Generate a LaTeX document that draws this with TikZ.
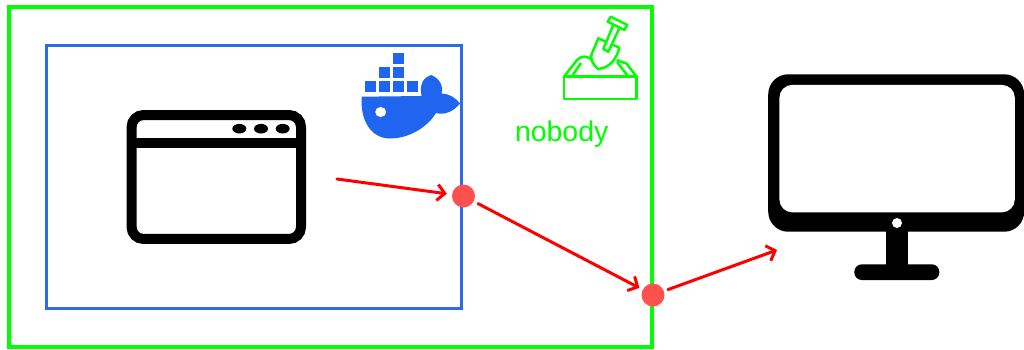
\documentclass[tikz,border=0pt]{standalone}
\usepackage{fontspec}
\setmainfont{Liberation Sans}
\usetikzlibrary{arrows.meta, positioning}
\definecolor{zonegreen}{HTML}{00FF00}
\definecolor{zoneblue}{HTML}{2D6BE4}
\definecolor{whaleblue}{HTML}{1F65F0}
\definecolor{portred}{HTML}{FF5050}
\tikzset{
    box_outer_green/.style={
        rectangle, draw=zonegreen, line width=0.8mm,
        minimum width=128.6mm, minimum height=68mm
    },
    box_inner_blue/.style={
        rectangle, draw=zoneblue, line width=0.6mm,
        minimum width=83.2mm, minimum height=52.8mm
    },
    box_window/.style={
        rectangle, rounded corners=2.4mm, draw=black, line width=2mm,
        minimum width=33.9mm, minimum height=24.8mm
    },
    box_screen/.style={
        rectangle, rounded corners=4mm, fill=black,
        minimum width=51.2mm, minimum height=31.5mm
    },
    box_glass/.style={
        rectangle, rounded corners=2.6mm, fill=white,
        minimum width=47.1mm, minimum height=25.5mm
    },
    port_dot/.style={
        circle, fill=portred, inner sep=0pt, minimum size=4.6mm
    },
    pipe_arrow/.style={
        -{Straight Barb[length=1.5mm, width=3.2mm, line width=0.6mm]},
        draw=red, line width=0.6mm, line cap=round
    },
    sand_line/.style={
        draw=zonegreen, line width=0.5mm, line join=round
    },
    lbl_zone/.style={
        font=\fontsize{16.2}{18}\selectfont, text=zonegreen, inner sep=0pt
    }
}

\begin{document}
\begin{tikzpicture}[x=0.02cm, y=-0.02cm]
    \useasboundingbox (0, 0) rectangle (1024, 349);

    % --- Zones ---
    \node[box_outer_green] (sandbox) at (330.5, 177) {};
    \node[box_inner_blue] (container) at (254, 177) {};
    \node[lbl_zone] (nobody) at (561.7, 134.5) {nobody};

    % --- Application window ---
    \node[box_window] (window) at (216.3, 177) {};
    \draw[line width=2mm] (window.west |- 0, 143.3) -- (window.east |- 0, 143.3);
    \foreach \dotx in {239.3, 261, 282.7} {
        \fill (\dotx, 128.7) ellipse [x radius=7, y radius=4.8];
    }

    % --- Docker whale ---
    \fill[whaleblue] (393, 53.3) rectangle (404, 64);
    \foreach \boxx in {379, 393} {
        \fill[whaleblue] (\boxx, 67.3) rectangle +(11, 10.7);
    }
    \foreach \boxx in {365, 379, 393, 407} {
        \fill[whaleblue] (\boxx, 81.3) rectangle +(11, 11);
    }
    \fill[whaleblue] (361.7, 96.7) -- (421.5, 96)
        .. controls (419, 84) and (424, 77) .. (431, 75)
        .. controls (439, 78) and (444, 86) .. (441.5, 93.5)
        .. controls (450, 94) and (456, 98) .. (460, 103.5)
        .. controls (455, 110) and (445, 116) .. (436, 113)
        .. controls (427, 128) and (408, 138.5) .. (390, 138.5)
        .. controls (372, 138.5) and (361, 122) .. (361.5, 100) -- cycle;
    \fill[white] (380.7, 112) ellipse [x radius=5.5, y radius=5];

    % --- Sandbox icon ---
    \draw[sand_line] (564, 76.7) rectangle (636.7, 99);
    \draw[sand_line] (564, 76.7) -- (577, 60) .. controls (581, 56) and (587, 55) .. (592, 60);
    \draw[sand_line] (571.5, 76.7) -- (581, 63);
    \draw[sand_line] (616.5, 60) -- (626.5, 63.5) -- (636.7, 76.7);
    \draw[sand_line] (628.5, 76.7) -- (617, 62);
    \draw[sand_line] (598.3, 38.3) -- (619.3, 47.7)
        .. controls (617, 58) and (610, 68) .. (598.3, 69)
        .. controls (592, 64) and (590, 58) .. (591.7, 54) -- cycle;
    \draw[sand_line, fill=white] (613.3, 25) -- (603.3, 49) -- (608.3, 51.7) -- (619.3, 28.3);
    \draw[sand_line] (610.7, 16.7) -- (627.3, 25) -- (624.3, 30) -- (607.7, 21.7) -- cycle;

    % --- Monitor ---
    \fill (885.7, 225) rectangle (908.3, 270);
    \fill[rounded corners=1.5mm] (854.3, 264.3) rectangle (939.3, 280);
    \node[box_screen] (screen) at (896.2, 153) {};
    \node[box_glass] (glass) at (897.1, 148.6) {};
    \fill[white] (897, 223) circle [radius=5];

    % --- Flow Arrows ---
    \node[port_dot] (port_a) at (463.5, 196) {};
    \node[port_dot] (port_b) at (653, 295) {};
    \coordinate (app_out) at (337, 179);
    \coordinate (host_in) at (777, 250);

    \draw[pipe_arrow, shorten >=1mm] (app_out) -- (port_a);
    \draw[pipe_arrow, shorten <=0.9mm, shorten >=0.7mm] (port_a) -- (port_b);
    \draw[pipe_arrow, shorten <=0.8mm] (port_b) -- (host_in);

\end{tikzpicture}
\end{document}
